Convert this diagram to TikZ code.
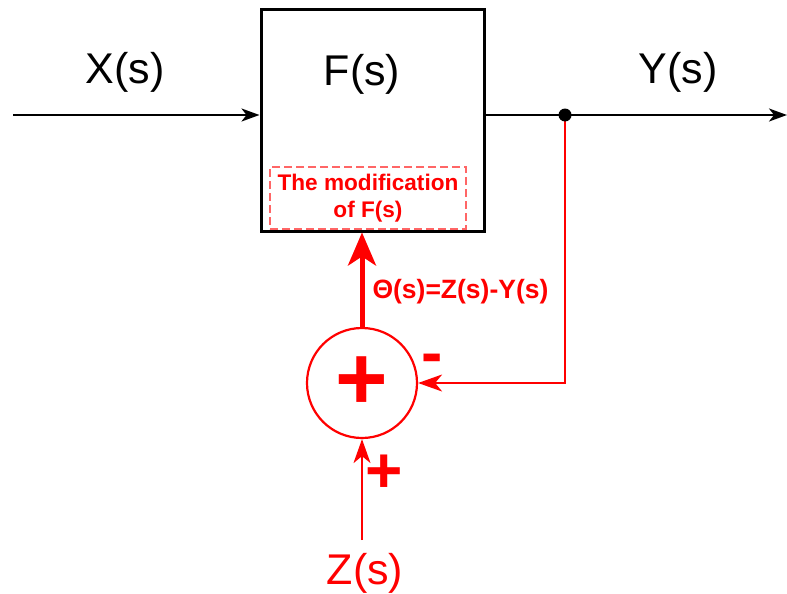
\documentclass[tikz,border=0pt]{standalone}
\usepackage{fontspec}
\setmainfont{Liberation Sans}
\usetikzlibrary{arrows.meta, positioning}

\begin{document}
\begin{tikzpicture}[x=1pt, y=-1pt,
    % Style definitions
    block/.style={rectangle, draw=black, line width=3pt, inner sep=0pt,
                  minimum width=223pt, minimum height=221pt},
    signal/.style={font=\fontsize{43}{50}\selectfont, inner sep=0pt, anchor=base},
    modbox/.style={rectangle, draw=red!60, dashed, dash pattern=on 8pt off 4pt, line width=1.4pt,
                   minimum width=196pt, minimum height=62pt, inner sep=0pt, align=center,
                   text=red, font=\fontsize{22.6}{27}\selectfont\bfseries},
    sumnode/.style={circle, draw=red, line width=2.2pt, minimum size=110pt, inner sep=0pt,
                    text=red, font=\fontsize{90}{90}\selectfont\bfseries},
    signlabel/.style={text=red, inner sep=0pt, font=\fontsize{64}{64}\selectfont\bfseries},
    branch/.style={circle, fill=black, minimum size=13pt, inner sep=0pt},
    arrow/.style={-{Stealth[length=18pt, width=13pt, inset=5pt]}, line width=1.8pt},
    fbarrow/.style={-{Stealth[length=24pt, width=17pt, inset=7pt]}, draw=red, line width=1.8pt},
    modarrow/.style={-{Stealth[length=33pt, width=28pt, inset=9pt]}, draw=red, line width=5pt},
]
\useasboundingbox (0,0) rectangle (787,594);

% Forward path
\node[block] (plant) at (372.5,120.5) {};
\node[signal] (ftext) at (362,85) {F(s)};
\node[signal] (xtext) at (125,83) {X(s)};
\node[signal] (ytext) at (678,83) {Y(s)};
\coordinate (in) at (13,115);
\coordinate (out) at (787,115);
\node[modbox] (mod) at (368,198) {The modification\\of F(s)};

% Summing junction
\node[sumnode] (sum) at (362,383) {+};
\node[signlabel] (minus) at (432,364) {-};
\node[signlabel] (plus) at (384,474) {+};
\node[signal, text=red] (ztext) at (365,584) {Z(s)};
\coordinate (zstart) at (362,540);

% Arrows - forward path
\draw[arrow] (in) -- (plant.west |- in);
\draw[arrow] (plant.east |- in) -- (out);

% Arrows - feedback
\draw[fbarrow] (565,115) coordinate (tap) |- (sum.east);
\draw[fbarrow] (zstart) -- (sum.south);
\draw[modarrow] (sum.north) -- node[pos=0.37, right=8pt, inner sep=0pt, text=red,
    font=\fontsize{26.5}{30}\selectfont\bfseries] {Θ(s)=Z(s)-Y(s)} (sum.north |- plant.south);

\node[branch] (dot) at (tap) {};

\end{tikzpicture}
\end{document}
